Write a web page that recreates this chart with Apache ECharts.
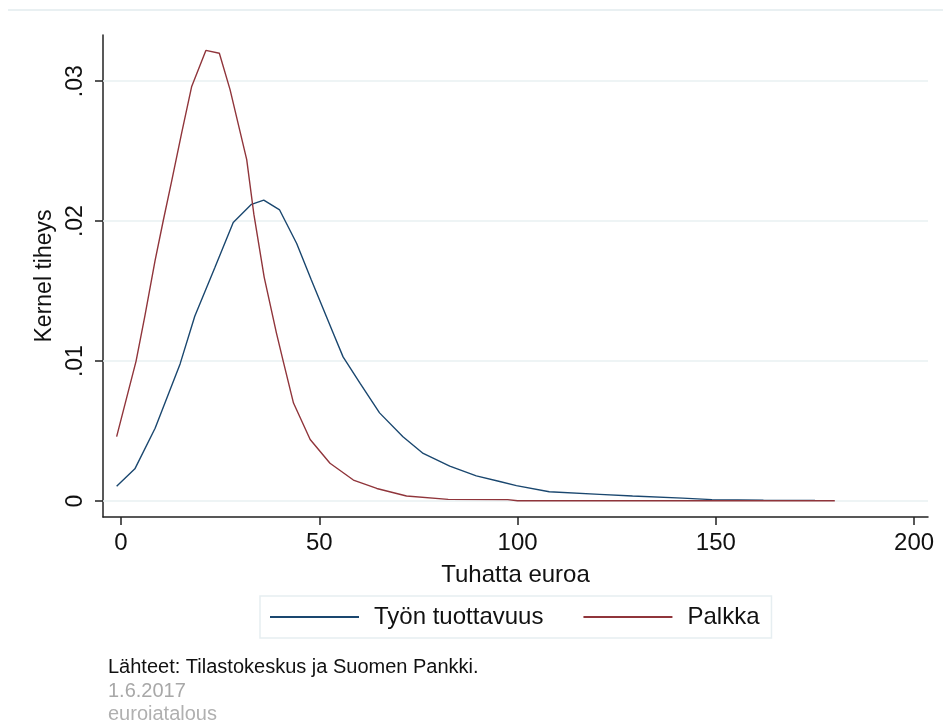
<!DOCTYPE html>
<html>
<head>
<meta charset="utf-8">
<title>Kernel tiheys</title>
<script src="https://cdn.jsdelivr.net/npm/echarts@6/dist/echarts.min.js"></script>
<style>
    html, body { margin: 0; padding: 0; background: #fff; }
    #chart { width: 943px; height: 720px; }
</style>
</head>
<body>
<div id="chart"></div>
<script>
// Values (x = tuhatta euroa, y = kernel density)
const tuottavuusX = [-1.1, 3.5, 8.6, 14.9, 18.6, 23.7, 28.3, 32.9, 36.0, 40, 44.3, 48, 53.5, 56, 60.3, 65.2, 71.1, 76.2, 82.9, 89.6, 95.5, 99.7, 108, 120.7, 129, 141.6, 149, 162, 175];
const tuottavuusY = [0.00105, 0.0023, 0.0052, 0.0098, 0.0132, 0.0167, 0.0199, 0.0212, 0.0215, 0.0208, 0.0184, 0.0158, 0.0120, 0.0103, 0.0084, 0.0063, 0.0046, 0.0034, 0.0025, 0.0018, 0.0014, 0.0011, 0.00066, 0.00048, 0.00036, 0.00021, 0.0001, 0.00006, 0.00005];

const palkkaX = [-1.1, 3.8, 6.0, 8.6, 10.7, 12.8, 15.3, 17.8, 21.4, 24.8, 27.5, 31.7, 33.5, 36.1, 39.2, 40.9, 43.5, 47.7, 52.7, 58.6, 64.5, 72, 82.5, 97.5, 100, 180];
const palkkaY = [0.0046, 0.0100, 0.0132, 0.0172, 0.0201, 0.0229, 0.0263, 0.0296, 0.0322, 0.0320, 0.0294, 0.0244, 0.0205, 0.0160, 0.0120, 0.0100, 0.0070, 0.0044, 0.0027, 0.0015, 0.0009, 0.00036, 0.00012, 0.0001, 0.00002, 0.00002];

const xTicks = [0, 50, 100, 150, 200];
const yTicks = [0, 0.01, 0.02, 0.03];
const yTickLabels = ['0', '.01', '.02', '.03'];

const FONT = '"Liberation Sans", Arial, sans-serif';

function pairs(xs, ys) {
    return xs.map((x, i) => [x, ys[i]]);
}

const chart = echarts.init(document.getElementById('chart'));

const option = {
    animation: false,
    backgroundColor: '#ffffff',
    textStyle: { fontFamily: FONT },
    grid: { left: 103, right: 15, top: 35, bottom: 203 },
    xAxis: {
        type: 'value',
        min: -4.54,
        max: 203.5,
        name: 'Tuhatta euroa',
        nameLocation: 'middle',
        nameGap: 46,
        nameTextStyle: { fontSize: 24, color: '#111', fontFamily: FONT },
        axisLine: { show: true, onZero: false, lineStyle: { color: '#222', width: 1.5 } },
        axisTick: { show: true, length: 8, customValues: xTicks, lineStyle: { color: '#222', width: 1.5 } },
        axisLabel: { customValues: xTicks, fontSize: 24, color: '#111', margin: 14, fontFamily: FONT },
        splitLine: { show: false }
    },
    yAxis: {
        type: 'value',
        min: -0.00114,
        max: 0.0333,
        name: 'Kernel tiheys',
        nameLocation: 'middle',
        nameGap: 47,
        nameTextStyle: { fontSize: 23, color: '#111', fontFamily: FONT },
        axisLine: { show: true, onZero: false, lineStyle: { color: '#222', width: 1.5 } },
        axisTick: { show: true, length: 8, customValues: yTicks, lineStyle: { color: '#222', width: 1.5 } },
        axisLabel: {
            customValues: yTicks,
            rotate: 90,
            fontSize: 23,
            color: '#111',
            margin: 16,
            fontFamily: FONT,
            formatter: v => {
                const i = yTicks.findIndex(t => Math.abs(t - v) < 1e-9);
                return i >= 0 ? yTickLabels[i] : '';
            }
        },
        splitLine: { show: false }
    },
    legend: {
        left: 260,
        top: 596,
        padding: [9, 12, 9, 10],
        itemWidth: 89,
        itemHeight: 2,
        itemGap: 40,
        icon: 'rect',
        borderColor: '#e6eef1',
        borderWidth: 1.5,
        textStyle: { fontSize: 24, color: '#111', padding: [0, 0, 0, 10], fontFamily: FONT },
        data: ['Työn tuottavuus', 'Palkka']
    },
    graphic: [
        {
            type: 'line',
            shape: { x1: 8, y1: 10, x2: 943, y2: 10 },
            style: { stroke: '#e9f0f2', lineWidth: 2 }
        },
        {
            type: 'text',
            left: 108,
            top: 657,
            style: { text: 'Lähteet: Tilastokeskus ja Suomen Pankki.', fontSize: 20, fill: '#111', fontFamily: FONT }
        },
        {
            type: 'text',
            left: 108,
            top: 681,
            style: { text: '1.6.2017', fontSize: 20, fill: '#a8a8a8', fontFamily: FONT }
        },
        {
            type: 'text',
            left: 108,
            top: 704,
            style: { text: 'eurojatalous', fontSize: 20, fill: '#b0b0b0', fontFamily: FONT }
        }
    ],
    series: [
        {
            name: 'Työn tuottavuus',
            type: 'line',
            showSymbol: false,
            symbol: 'none',
            z: 3,
            itemStyle: { color: '#1a476f' },
            lineStyle: { color: '#1a476f', width: 1.4 },
            data: pairs(tuottavuusX, tuottavuusY),
            markLine: {
                silent: true,
                symbol: 'none',
                z: 1,
                label: { show: false },
                lineStyle: { color: '#e8f1f2', width: 1.5, type: 'solid' },
                data: yTicks.map(v => ({ yAxis: v }))
            }
        },
        {
            name: 'Palkka',
            type: 'line',
            showSymbol: false,
            symbol: 'none',
            z: 3,
            itemStyle: { color: '#90353b' },
            lineStyle: { color: '#90353b', width: 1.4 },
            data: pairs(palkkaX, palkkaY)
        }
    ]
};

chart.setOption(option);
</script>
</body>
</html>
